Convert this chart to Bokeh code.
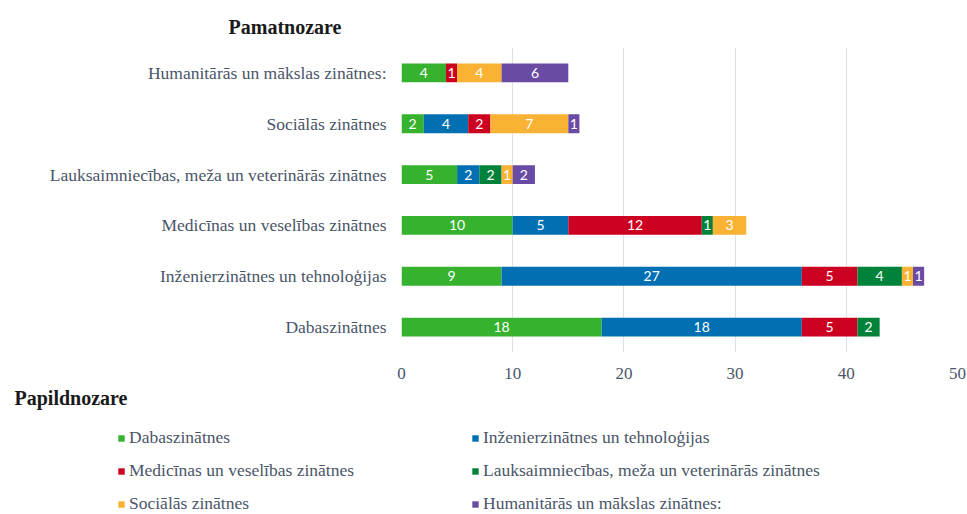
from bokeh.plotting import figure
from bokeh.layouts import column
from bokeh.models import (ColumnDataSource, Label, Legend, LegendItem, FixedTicker,
                          Range1d, Title)
from bokeh.embed import file_html
from bokeh.resources import INLINE
from bokeh.core.properties import value

# Pamatnozare (categories), listed bottom to top
categories = [
    "Dabaszinātnes",
    "Inženierzinātnes un tehnoloģijas",
    "Medicīnas un veselības zinātnes",
    "Lauksaimniecības, meža un veterinārās zinātnes",
    "Sociālās zinātnes",
    "Humanitārās un mākslas zinātnes:",
]

# Papildnozare (series)
series_names = [
    "Dabaszinātnes",
    "Inženierzinātnes un tehnoloģijas",
    "Medicīnas un veselības zinātnes",
    "Lauksaimniecības, meža un veterinārās zinātnes",
    "Sociālās zinātnes",
    "Humanitārās un mākslas zinātnes:",
]
series_colors = ["#37B22F", "#0070B2", "#CC0020", "#00823A", "#F9B233", "#6A4BA3"]

dabaszinatnes = [18, 9, 10, 5, 2, 4]
inzenierzinatnes = [18, 27, 5, 2, 4, 0]
medicinas = [5, 5, 12, 0, 2, 1]
lauksaimniecibas = [2, 4, 1, 2, 0, 0]
socialas = [0, 1, 3, 1, 7, 4]
humanitaras = [0, 1, 0, 2, 1, 6]

x_ticks = [0, 10, 20, 30, 40, 50]

series_values = [dabaszinatnes, inzenierzinatnes, medicinas,
                 lauksaimniecibas, socialas, humanitaras]
keys = ["s%d" % i for i in range(len(series_values))]

data = {"cat": categories}
for k, vals in zip(keys, series_values):
    data[k] = vals
source = ColumnDataSource(data)

SERIF = "Liberation Serif"
TEXT_COLOR = "#4A5568"

W = 967
H1, H2 = 387, 127
FRAME_LEFT, FRAME_TOP, FRAME_BOTTOM, FRAME_RIGHT = 401, 47, 352, 957

# ---------------- chart ----------------
p = figure(width=W, height=H1, y_range=categories, x_range=Range1d(0, 50),
           output_backend="svg", toolbar_location=None, frame_align=False,
           min_border_left=FRAME_LEFT, min_border_top=FRAME_TOP,
           min_border_bottom=H1 - FRAME_BOTTOM, min_border_right=W - FRAME_RIGHT)
p.outline_line_color = None
p.background_fill_color = "white"
p.border_fill_color = "white"

p.hbar_stack(keys, y="cat", height=0.37, color=series_colors,
             source=source, line_color=None)

# segment labels
lx, ly, lt = [], [], []
for ci, cat in enumerate(categories):
    left = 0
    for vals in series_values:
        v = vals[ci]
        if v > 0:
            lx.append(left + v / 2)
            ly.append(cat)
            lt.append(str(v))
        left += v
p.text(x="x", y="y", text="t", source=ColumnDataSource(dict(x=lx, y=ly, t=lt)),
       text_color="white", text_font=value("Lato"), text_font_size="14px",
       text_align="center", text_baseline="middle")

p.xaxis.ticker = FixedTicker(ticks=x_ticks)
p.xgrid.ticker = FixedTicker(ticks=x_ticks)
p.xgrid.grid_line_color = "#DDE2EA"
p.ygrid.grid_line_color = None
for ax in (p.xaxis[0], p.yaxis[0]):
    ax.axis_line_color = None
    ax.major_tick_line_color = None
    ax.minor_tick_line_color = None
    ax.major_tick_out = 0
    ax.major_tick_in = 0
    ax.major_label_text_font = SERIF
    ax.major_label_text_color = TEXT_COLOR
p.xaxis.major_label_text_font_size = "17px"
p.yaxis.major_label_text_font_size = "17.5px"
p.xaxis.major_label_standoff = 15
p.yaxis.major_label_standoff = 15

p.add_layout(Title(text="Pamatnozare", align="left", offset=228 - FRAME_LEFT,
                   text_font=SERIF, text_font_style="bold", text_font_size="20px",
                   text_color="#1A1A1A", standoff=20), "above")

# ---------------- legend area ----------------
q = figure(width=W, height=H2, x_range=Range1d(0, 50), y_range=categories,
           x_axis_type=None, y_axis_type=None, output_backend="svg",
           toolbar_location=None, min_border=0, frame_align=False)
q.outline_line_color = None
q.xgrid.visible = False
q.ygrid.visible = False
q.background_fill_color = "white"
q.border_fill_color = "white"

# hidden copies of the series, used only as legend swatches
swatches = q.hbar_stack(keys, y="cat", height=0.37, color=series_colors,
                        source=source, line_color=None, visible=False)

q.add_layout(Label(x=14, y=H2 - 10, x_units="screen", y_units="screen",
                   text="Papildnozare", text_font=SERIF, text_font_style="bold",
                   text_font_size="20px", text_color="#1A1A1A",
                   text_baseline="middle", text_align="left"))

items = [LegendItem(label=n, renderers=[r]) for n, r in zip(series_names, swatches)]
legend = Legend(items=items, ncols=2, orientation="horizontal",
                location=(117, 0), click_policy="none",
                margin=0, padding=0, border_line_color=None,
                background_fill_alpha=0, inactive_fill_alpha=0,
                glyph_width=8, glyph_height=8, label_standoff=4,
                label_width=330, label_height=20, spacing=12,
                label_text_font=SERIF, label_text_font_size="17.5px",
                label_text_color=TEXT_COLOR)
q.add_layout(legend, "center")

layout = column(p, q, spacing=0)
open("out.html", "w").write(file_html(layout, INLINE))
